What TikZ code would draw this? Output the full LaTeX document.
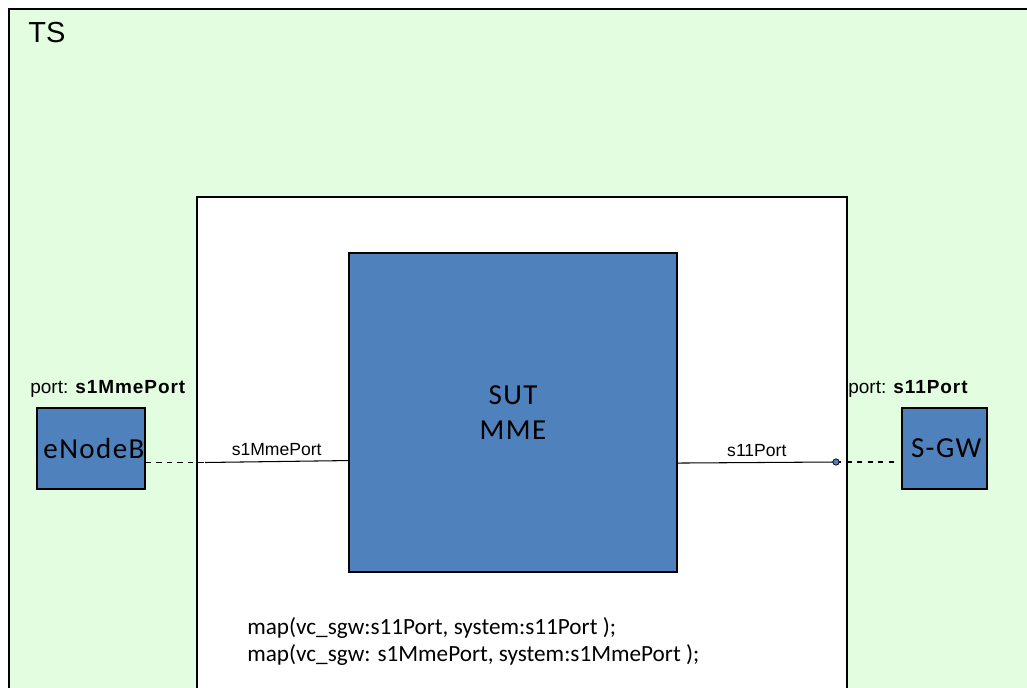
\documentclass[tikz,border=0pt]{standalone}
\usepackage{fontspec}
\setmainfont{Liberation Sans}
\newfontfamily\calfont{Carlito}
\newfontfamily\calwide[LetterSpace=5]{Carlito}
\newfontfamily\portbold[LetterSpace=5]{Liberation Sans}
\usetikzlibrary{positioning}
\definecolor{tsgreen}{HTML}{E3FDE1}
\definecolor{boxblue}{HTML}{4F81BD}

\begin{document}
\begin{tikzpicture}[x=0.02cm,y=-0.02cm,
    blk/.style={draw=black, fill=boxblue, thick, inner sep=0pt},
    lbl/.style={font=\fontsize{10}{12}\selectfont, inner sep=0pt},
    portlbl/.style={font=\fontsize{10.8}{12}\selectfont, inner sep=0pt}]
	\useasboundingbox (0,0) rectangle (1027,688);
	\clip (0,0) rectangle (1027,688);
	% frames
	\draw[thick, fill=tsgreen] (9,9) rectangle (1040,700);
	\node[font=\fontsize{16.5}{18}\selectfont] (ts) at (47,33) {TS};
	\draw[thick, fill=white] (197,197) rectangle (847,700);
	% blocks
	\node[blk, minimum width=6.56cm, minimum height=6.38cm, align=center,
		font=\calwide\fontsize{16.5}{20}\selectfont] (sut) at (513,412.5) {SUT\\MME};
	\node[blk, minimum width=2.16cm, minimum height=1.62cm,
		font=\calwide\fontsize{16.5}{18}\selectfont] (enb) at (91,448.5) {\makebox[2.14cm][r]{eNodeB}};
	\node[blk, minimum width=1.7cm, minimum height=1.62cm,
		font=\calwide\fontsize{16.5}{18}\selectfont] (sgw) at (944.5,448.5) {\hspace{2pt}S-GW};
	\node[portlbl, anchor=south west] (enbport) at (30,398) {port: {\portbold\bfseries s1MmePort}};
	\node[portlbl, anchor=south west] (sgwport) at (848,398) {port: {\portbold\bfseries s11Port}};
	% ports
	\coordinate (p1) at (205,462.5);
	\coordinate (p2) at (836,462);
	\draw[dashed, semithick] (enb.east |- p1) -- (p1);
	\draw[semithick] (p1) -- ([yshift=1.1pt]sut.west |- p1) node[lbl, midway, above=3pt] {s1MmePort};
	\draw[semithick] ([yshift=-0.6pt]sut.east |- p2) -- (p2) node[lbl, midway, above=3pt] {s11Port};
	\draw[dashed, semithick, shorten >=2.5pt] (p2) -- (sgw.west |- p2);
	\filldraw[fill=boxblue, draw=black] (p2) circle (3.2);
	% mapping
	\node[anchor=west, align=left, inner sep=0pt,
		font=\calfont\fontsize{13.2}{15.5}\selectfont] (maps) at (247,641.5)
		{map(vc\_sgw:s11Port, system:s11Port );\\map(vc\_sgw: s1MmePort, system:s1MmePort );};
\end{tikzpicture}
\end{document}
